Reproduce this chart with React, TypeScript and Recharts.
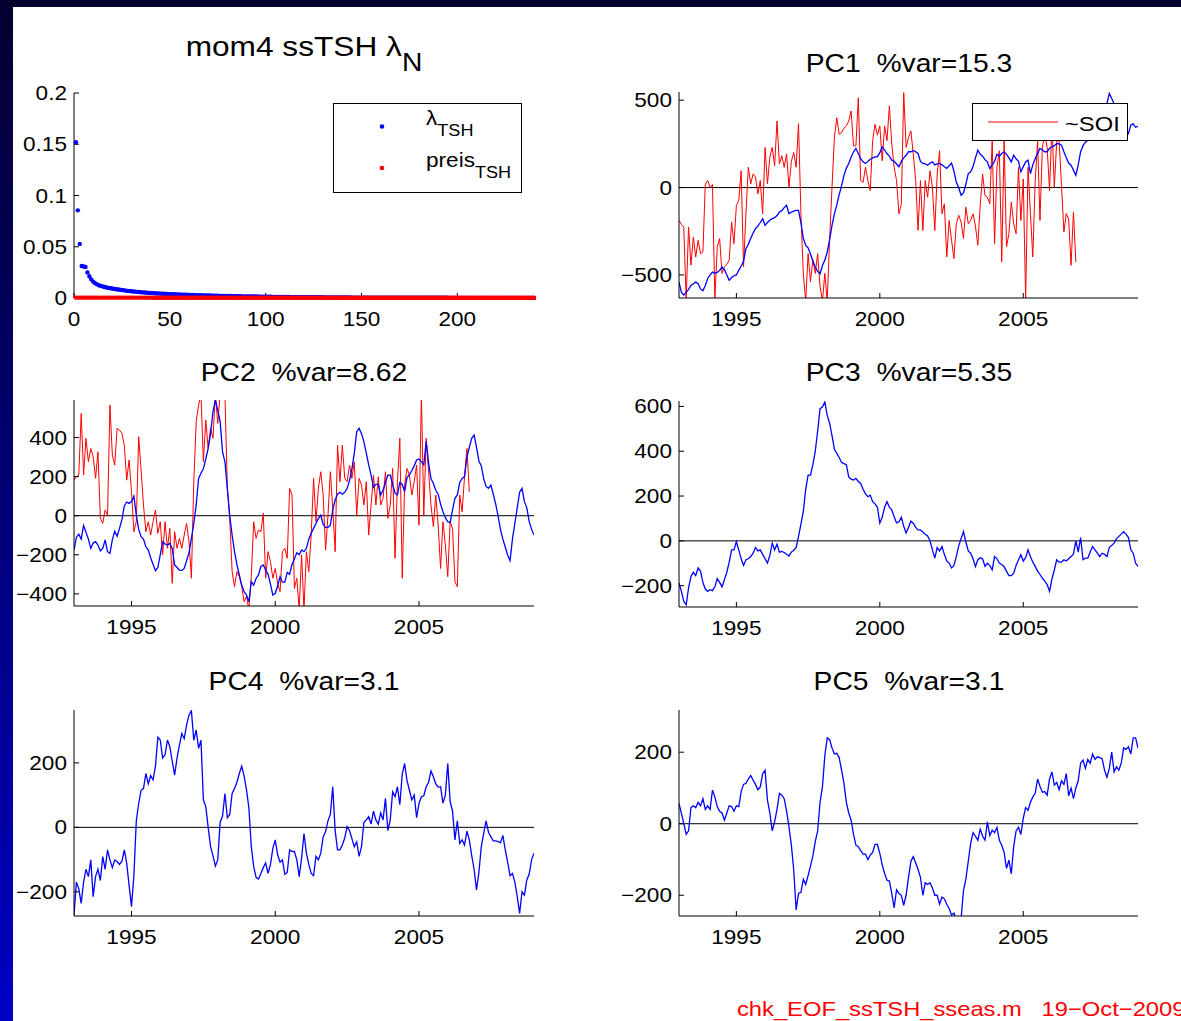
import React from "react";
import { LineChart, Line, XAxis, YAxis, ReferenceLine, Legend } from "recharts";

// Monthly principal components of ssTSH, Jan 1993 .. Jan 2009
const START_YEAR = 1993;

const PC1 = [
  -541, -600, -615, -600, -583, -560, -550, -541, -550, -580, -590, -560,
  -520, -500, -484, -490, -485, -474, -455, -470, -500, -531, -515, -505,
  -500, -474, -450, -420, -350, -325, -290, -260, -235, -220, -200, -178,
  -216, -200, -187, -178, -172, -160, -140, -132, -115, -101, -149, -140,
  -135, -130, -130, -200, -290, -331, -345, -380, -420, -455, -480, -493,
  -446, -415, -370, -300, -216, -150, -100, -40, 10, 70, 110, 138,
  175, 205, 224, 195, 165, 147, 138, 150, 162, 170, 176, 176,
  200, 233, 215, 195, 180, 157, 150, 135, 119, 150, 170, 185,
  205, 205, 212, 205, 195, 150, 138, 135, 128, 140, 147, 130,
  135, 138, 130, 119, 110, 125, 140, 95, 30, 0, -44, -30,
  20, 80, 90, 120, 170, 214, 190, 180, 160, 147, 109, 130,
  150, 190, 180, 195, 205, 190, 170, 147, 185, 165, 150, 90,
  120, 147, 157, 80, 130, 166, 195, 224, 215, 205, 205, 225,
  233, 240, 252, 250, 243, 205, 170, 140, 128, 100, 71, 130,
  205, 240, 260, 270, 280, 290, 295, 300, 320, 345, 380, 480,
  539, 510, 480, 440, 420, 390, 360, 330, 310, 358, 365, 345,
  350,
];

const PC2 = [
  -176, -110, -95, -120, -50, -85, -120, -167, -140, -133, -150, -180,
  -167, -124, -184, -193, -124, -80, -105, -65, -20, 50, 70, 63,
  72, 100, 3, -70, -107, -120, -159, -175, -215, -250, -281, -265,
  -200, -133, -145, -150, -142, -167, -252, -265, -278, -280, -270, -230,
  -190, -116, -40, 55, 191, 217, 240, 290, 344, 420, 532, 592,
  540, 481, 327, 276, 140, 0, -100, -184, -250, -303, -355, -389,
  -406, -440, -338, -355, -321, -303, -260, -252, -278, -300, -350, -406,
  -397, -360, -312, -340, -340, -290, -300, -250, -220, -190, -200, -175,
  -184, -167, -120, -90, -65, -40, -15, 3, -45, -60, -60, -48,
  30, 80, 110, 120, 110, 120, 140, 180, 240, 320, 430, 447,
  420, 378, 320, 260, 208, 145, 160, 160, 106, 130, 170, 208,
  208, 160, 115, 106, 170, 160, 123, 195, 210, 230, 255, 285,
  290, 275, 260, 380, 270, 190, 165, 130, 110, 60, 20, -10,
  -31, -35, 30, 89, 106, 170, 191, 200, 300, 350, 396, 413,
  350, 280, 255, 190, 150, 140, 157, 110, 60, 0, -70, -120,
  -160, -201, -230, -120, -40, 40, 120, 140, 72, 40, -30, -70,
  -99,
];

const PC3 = [
  -188, -225, -270, -285, -210, -159, -140, -155, -121, -135, -185, -215,
  -225, -218, -222, -205, -168, -185, -205, -173, -140, -95, -40, -40,
  -3, -40, -80, -110, -84, -80, -70, -55, -30, -45, -40, -60,
  -80, -99, -65, -10, -40, -15, -50, -47, -52, -60, -68, -50,
  -42, -30, 20, 75, 130, 230, 293, 293, 340, 400, 490, 590,
  597, 620, 560, 525, 470, 410, 390, 372, 350, 345, 340, 285,
  275, 271, 279, 265, 256, 230, 210, 197, 204, 175, 165, 150,
  79, 105, 150, 175, 150, 138, 108, 80, 85, 105, 65, 35,
  60, 88, 79, 60, 49, 49, 40, 30, 22, 0, -40, -77,
  -30, -45, -25, -60, -90, -99, -121, -110, -70, -22, 10, 41,
  -5, -45, -55, -80, -115, -84, -75, -80, -114, -100, -110, -129,
  -70, -80, -99, -105, -115, -136, -155, -155, -144, -110, -85, -62,
  -90, -75, -40, -70, -95, -114, -135, -150, -166, -180, -195, -225,
  -170, -130, -84, -95, -95, -84, -90, -80, -70, -58, 0, -50,
  15, -84, -77, -77, -50, -25, -40, -55, -70, -55, -60, -70,
  -30, -20, -10, 10, 20, 30, 41, 30, 15, -40, -55, -100,
  -114,
];

const PC4 = [
  -272, -170, -190, -236, -170, -130, -153, -101, -215, -153, -130, -165,
  -91, -130, -70, -101, -125, -101, -106, -115, -105, -70, -112, -180,
  -246, -150, 20, 74, 115, 120, 167, 135, 160, 147, 190, 280,
  271, 215, 225, 271, 250, 205, 162, 215, 255, 291, 275, 318,
  348, 362, 270, 302, 245, 270, 85, 65, 0, -60, -88, -120,
  -101, 15, 35, 105, 30, 40, 105, 120, 140, 167, 190, 160,
  116, 60, -60, -122, -155, -160, -143, -125, -110, -143, -115, -65,
  -39, -85, -108, -101, -146, -140, -70, -75, -75, -101, -153, -95,
  -19, -80, -115, -143, -150, -90, -101, -80, -30, -13, 20, 40,
  126, -10, -70, -70, -55, -33, 2, -10, -35, -60, -45, -90,
  -60, 15, 23, 33, 10, 50, 23, 10, 45, 23, 90, -10,
  23, 110, 95, 126, 70, 165, 198, 145, 115, 85, 100, 30,
  74, 95, 98, 126, 140, 175, 157, 135, 125, 126, 75, 100,
  198, 80, 50, -39, 20, -50, -39, -55, -12, -39, -88, -130,
  -194, -140, -60, -19, 20, -15, -29, -42, -42, -44, -48, -25,
  -70, -108, -150, -143, -170, -215, -267, -200, -210, -163, -145, -100,
  -80,
];

const PC5 = [
  57, 29, 0, -30, -20, 45, 50, 45, 60, 50, 70, 40,
  50, 40, 94, 75, 48, 35, 30, 10, 30, 50, 48, 35,
  50, 48, 90, 110, 113, 125, 135, 122, 110, 95, 103, 140,
  150, 66, 30, -20, 5, 40, 85, 80, 70, 35, -8, -60,
  -130, -241, -195, -192, -155, -170, -145, -118, -90, -50, -20, 60,
  103, 190, 240, 236, 212, 195, 197, 185, 150, 113, 60, 30,
  10, -30, -60, -64, -75, -85, -85, -100, -88, -80, -58, -58,
  -83, -115, -139, -158, -160, -195, -235, -185, -195, -200, -228, -200,
  -150, -105, -92, -110, -128, -150, -200, -165, -170, -165, -180, -200,
  -200, -225, -205, -210, -225, -237, -255, -250, -270, -280, -265, -186,
  -155, -105, -55, -25, -35, -46, -15, -35, -46, 5, -33, -18,
  -25, -10, -46, -60, -80, -125, -102, -140, -64, -20, -10, -30,
  15, 45, 38, 60, 75, 85, 125, 105, 88, 90, 80, 125,
  145, 108, 115, 95, 120, 110, 140, 78, 100, 70, 100, 120,
  170, 178, 155, 180, 169, 195, 180, 187, 185, 182, 150, 130,
  155, 200, 145, 159, 150, 170, 212, 208, 215, 195, 240, 240,
  211,
];

// scaled SOI overlays, monthly from Jan 1993
const SOI_PC1 = [
  -188, -210, -226, -640, -226, -444, -283, -397, -302, -378, -368, 21,
  40, 0, 17, -640, -340, -292, -491, -453, -440, -415, -197, -321,
  -102, -74, 97, -453, -150, 116, 21, 78, 60, -36, 40, -150,
  230, 21, 173, 230, 125, 381, 135, 182, 116, 192, 2, 150,
  201, 116, 366, -150, -491, -650, -378, -539, -415, -491, -378, -567,
  -650, -491, -650, -300, 2, 287, 400, 305, 315, 340, 353, 381,
  438, 239, 239, 514, 40, 30, 116, 40, -17, 268, 362, 300,
  353, 154, 353, 268, 467, 249, 116, 40, -150, -93, 543, 230,
  287, 324, 192, 40, -245, 40, -245, 40, -55, 97, 0, -245,
  78, 211, -150, -93, -397, -188, -300, -406, -207, -159, -197, -292,
  -112, -207, -188, -150, -220, -330, -100, 78, -46, -55, -93, 268,
  -321, 116, 211, -425, 268, -340, -264, -83, -207, -264, 116, -188,
  49, -640, 116, -150, -397, 40, 268, -188, 230, 305, 230, -17,
  362, 2, 268, 268, 13, -254, -149, -180, -445, -140, -426,
];

const SOI_PC2 = [
  182, 200, 208, 523, 208, 396, 276, 344, 302, 191, 327, -14,
  -39, 29, 3, 566, 310, 259, 447, 438, 421, 361, 182, 285,
  123, -82, -31, 404, 234, 55, -82, -31, -99, -31, 29, -90,
  -31, -201, -31, -167, -65, -346, -82, -167, -116, -167, -99, -39,
  -133, -320, 174, 481, 566, 620, 276, 489, 344, 447, 396, 620,
  472, 620, 620, 620, 140, -14, -286, -363, -286, -312, -363, -440,
  -412, -480, -312, -31, -116, -73, -82, 12, -320, -184, -235, -320,
  -270, -346, -389, -184, -167, -218, 140, 106, -372, -320, -480, -201,
  -480, -184, -286, -99, 191, -31, 140, 225, 106, -176, 0, 225,
  38, -184, 361, 174, 361, 191, 174, 259, 191, 276, 3, 191,
  157, 55, 174, -99, 55, 208, 55, 199, 55, 89, 225, -14,
  55, 242, -218, 174, 396, -320, 157, 242, 208, 106, 174, 259,
  -48, 620, 3, 396, 225, 55, -56, 106, -48, -270, -31, -150,
  -312, -31, -65, -338, -363, 106, 20, 199, 344, 123,
];

// eigenvalue spectrum, modes 1..240
const LAMBDA_TSH = [
  0.152, 0.0855, 0.0528, 0.0312, 0.0308, 0.0302, 0.025, 0.0212, 0.0182, 0.016,
  0.0145, 0.0133, 0.0125, 0.0118, 0.0112, 0.0107, 0.0103, 0.0099, 0.0095, 0.0092,
  0.0089, 0.0086, 0.0083, 0.008, 0.0077, 0.0075, 0.0072, 0.007, 0.0068, 0.0066,
  0.0064, 0.0062, 0.006, 0.0058, 0.0056, 0.0055, 0.0053, 0.0052, 0.005, 0.0049,
  0.0048, 0.0046, 0.0045, 0.0044, 0.0043, 0.0042, 0.0041, 0.004, 0.0039, 0.0038,
  0.0037, 0.0036, 0.0035, 0.0035, 0.0034, 0.0033, 0.0032, 0.0032, 0.0031, 0.003,
  0.003, 0.0029, 0.0028, 0.0028, 0.0027, 0.0027, 0.0026, 0.0025, 0.0025, 0.0024,
  0.0024, 0.0023, 0.0023, 0.0022, 0.0022, 0.0021, 0.0021, 0.002, 0.002, 0.0019,
  0.0019, 0.0019, 0.0018, 0.0018, 0.0017, 0.0017, 0.0017, 0.0016, 0.0016, 0.0016,
  0.0015, 0.0015, 0.0015, 0.0014, 0.0014, 0.0014, 0.0013, 0.0013, 0.0013, 0.0013,
  0.0012, 0.0012, 0.0012, 0.0011, 0.0011, 0.0011, 0.0011, 0.001, 0.001, 0.001,
  0.001, 0.001, 0.0009, 0.0009, 0.0009, 0.0009, 0.0009, 0.0008, 0.0008, 0.0008,
  0.0008, 0.0008, 0.0008, 0.0007, 0.0007, 0.0007, 0.0007, 0.0007, 0.0007, 0.0006,
  0.0006, 0.0006, 0.0006, 0.0006, 0.0006, 0.0006, 0.0006, 0.0005, 0.0005, 0.0005,
  0.0005, 0.0005, 0.0005, 0.0005, 0.0004, 0.0004, 0.0004, 0.0004, 0.0004, 0.0004,
  0.0004, 0.0004, 0.0004, 0.0004, 0.0003, 0.0003, 0.0003, 0.0003, 0.0003, 0.0003,
  0.0003, 0.0003, 0.0003, 0.0003, 0.0003, 0.0003, 0.0003, 0.0002, 0.0002, 0.0002,
  0.0002, 0.0002, 0.0002, 0.0002, 0.0002, 0.0002, 0.0002, 0.0002, 0.0002, 0.0002,
  0.0002, 0.0002, 0.0002, 0.0002, 0.0002, 0.0002, 0.0002, 0.0002, 0.0002, 0.0002,
  0.0002, 0.0002, 0.0002, 0.0002, 0.0002, 0.0001, 0.0001, 0.0001, 0.0001, 0.0001,
  0.0001, 0.0001, 0.0001, 0.0001, 0.0001, 0.0001, 0.0001, 0.0001, 0.0001, 0.0001,
  0.0001, 0.0001, 0.0001, 0.0001, 0.0001, 0.0001, 0.0001, 0.0001, 0.0001, 0.0001,
  0.0001, 0.0001, 0.0001, 0.0001, 0.0001, 0.0001, 0.0001, 0.0001, 0.0001, 0.0001,
  0.0001, 0.0001, 0.0001, 0.0001, 0.0001, 0.0001, 0.0001, 0.0001, 0.0001, 0.0001,
];

const PREIS_TSH = [
  0.0004, 0.0004, 0.0004, 0.0004, 0.0004, 0.0004, 0.0004, 0.0004, 0.0004, 0.0004,
  0.0004, 0.0004, 0.0004, 0.0004, 0.0004, 0.0004, 0.0004, 0.0004, 0.0004, 0.0004,
  0.0004, 0.0004, 0.0004, 0.0004, 0.0004, 0.0004, 0.0004, 0.0004, 0.0004, 0.0004,
  0.0004, 0.0004, 0.0004, 0.0004, 0.0004, 0.0004, 0.0004, 0.0004, 0.0004, 0.0004,
  0.0003, 0.0003, 0.0003, 0.0003, 0.0003, 0.0003, 0.0003, 0.0003, 0.0003, 0.0003,
  0.0003, 0.0003, 0.0003, 0.0003, 0.0003, 0.0003, 0.0003, 0.0003, 0.0003, 0.0003,
  0.0003, 0.0003, 0.0003, 0.0003, 0.0003, 0.0003, 0.0003, 0.0003, 0.0003, 0.0003,
  0.0003, 0.0003, 0.0003, 0.0003, 0.0003, 0.0003, 0.0003, 0.0003, 0.0003, 0.0003,
  0.0003, 0.0003, 0.0003, 0.0003, 0.0003, 0.0003, 0.0003, 0.0003, 0.0003, 0.0003,
  0.0003, 0.0003, 0.0003, 0.0003, 0.0003, 0.0003, 0.0003, 0.0003, 0.0003, 0.0003,
  0.0003, 0.0003, 0.0003, 0.0003, 0.0003, 0.0003, 0.0003, 0.0003, 0.0003, 0.0003,
  0.0003, 0.0003, 0.0003, 0.0003, 0.0003, 0.0003, 0.0003, 0.0003, 0.0003, 0.0003,
  0.0003, 0.0003, 0.0003, 0.0003, 0.0003, 0.0003, 0.0003, 0.0003, 0.0003, 0.0003,
  0.0003, 0.0003, 0.0003, 0.0003, 0.0003, 0.0003, 0.0003, 0.0003, 0.0003, 0.0003,
  0.0003, 0.0003, 0.0003, 0.0003, 0.0003, 0.0003, 0.0003, 0.0003, 0.0003, 0.0003,
  0.0003, 0.0003, 0.0003, 0.0003, 0.0003, 0.0003, 0.0003, 0.0003, 0.0003, 0.0003,
  0.0003, 0.0003, 0.0003, 0.0003, 0.0003, 0.0003, 0.0003, 0.0003, 0.0003, 0.0003,
  0.0003, 0.0003, 0.0003, 0.0003, 0.0003, 0.0003, 0.0003, 0.0003, 0.0003, 0.0003,
  0.0003, 0.0003, 0.0003, 0.0003, 0.0003, 0.0003, 0.0003, 0.0003, 0.0003, 0.0003,
  0.0003, 0.0003, 0.0003, 0.0003, 0.0003, 0.0003, 0.0003, 0.0003, 0.0003, 0.0003,
  0.0003, 0.0003, 0.0003, 0.0003, 0.0003, 0.0003, 0.0003, 0.0003, 0.0003, 0.0003,
  0.0003, 0.0003, 0.0003, 0.0003, 0.0003, 0.0003, 0.0003, 0.0003, 0.0003, 0.0003,
  0.0003, 0.0003, 0.0003, 0.0003, 0.0003, 0.0003, 0.0003, 0.0003, 0.0003, 0.0003,
  0.0003, 0.0003, 0.0003, 0.0003, 0.0003, 0.0003, 0.0003, 0.0003, 0.0003, 0.0003,
];

const YEAR_TICKS = [1995, 2000, 2005];
const MODE_TICKS = [0, 50, 100, 150, 200];
const LAMBDA_TICKS = [0, 0.05, 0.1, 0.15, 0.2];

const FONT = '"Liberation Sans", Arial, Helvetica, sans-serif';
const STRETCH = 1.13; // the old printout is wider than it is tall
const TICK_FS = 20;

// chart frame: y-axis width, top/right margin, x-axis height
const YW = 80;
const MT = 16;
const MR = 6;
const XH = 40;

const LEFT_X = 74;
const LEFT_W = 460;
const RIGHT_X = 679;
const RIGHT_W = 459;

function monthly(pc: number[], soi?: number[]) {
  return pc.map((v, i) => ({
    t: START_YEAR + i / 12,
    pc: v,
    soi: soi && i < soi.length ? soi[i] : null,
  }));
}

const lambdaRows = LAMBDA_TSH.map((v, i) => ({ n: i + 1, lam: v, preis: PREIS_TSH[i] }));

const fmt = (v: number) => String(v).replace("-", "\u2212");

function AxisTick(props: any) {
  const { x, y, payload, side } = props;
  const bottom = side === "bottom";
  return (
    <text
      x={x}
      y={y}
      dy={bottom ? "0.71em" : "0.355em"}
      textAnchor={bottom ? "middle" : "end"}
      fill="#000"
      fontSize={TICK_FS}
      fontFamily={FONT}
      transform={`translate(${x} 0) scale(${STRETCH} 1) translate(${-x} 0)`}
    >
      {fmt(payload.value)}
    </text>
  );
}

function Title({ cx, baseline, size, children }: any) {
  return (
    <div
      style={{
        position: "absolute",
        left: cx - 250,
        width: 500,
        top: baseline - size * 0.8465,
        height: size,
        lineHeight: `${size}px`,
        fontSize: size,
        fontFamily: FONT,
        color: "#000",
        textAlign: "center",
        whiteSpace: "pre",
        transform: `scaleX(${STRETCH})`,
      }}
    >
      {children}
    </div>
  );
}

function Sub({ children, size, drop }: any) {
  return <span style={{ position: "relative", top: drop, fontSize: size }}>{children}</span>;
}

function SoiLegend() {
  return (
    <div
      style={{
        width: 156,
        height: 38,
        boxSizing: "border-box",
        border: "1px solid #000",
        background: "#fff",
        position: "relative",
        fontFamily: FONT,
      }}
    >
      <svg width={156} height={38} style={{ position: "absolute", left: -1, top: -1 }}>
        <line x1={16} x2={86} y1={19} y2={19} stroke="#ff0000" strokeWidth={1} />
      </svg>
      <div
        style={{
          position: "absolute",
          left: 92,
          top: 28 - 21 * 0.8465 - 1,
          fontSize: 21,
          lineHeight: "21px",
          whiteSpace: "pre",
          transform: `scaleX(${STRETCH})`,
          transformOrigin: "left center",
        }}
      >
        ~SOI
      </div>
    </div>
  );
}

function EigenLegend() {
  const row = (base: number, label: string) => (
    <div
      style={{
        position: "absolute",
        left: 92,
        top: base - 20 * 0.8465 - 1,
        fontSize: 20,
        lineHeight: "20px",
        whiteSpace: "pre",
        transform: `scaleX(${STRETCH})`,
        transformOrigin: "left center",
      }}
    >
      {label}
      <Sub size={16} drop={11}>TSH</Sub>
    </div>
  );
  return (
    <div
      style={{
        width: 189,
        height: 90,
        boxSizing: "border-box",
        border: "1px solid #000",
        background: "#fff",
        position: "relative",
        fontFamily: FONT,
      }}
    >
      <svg width={189} height={90} style={{ position: "absolute", left: -1, top: -1 }}>
        <circle cx={49} cy={23.5} r={2.3} fill="#0000ff" />
        <circle cx={49} cy={65} r={2.3} fill="#ff0000" />
      </svg>
      {row(22, "\u03bb")}
      {row(64, "preis")}
    </div>
  );
}

function PcChart({ x, y, w, h, rows, domain, yTicks, soi, legend }: any) {
  const left = x - YW;
  const top = y - MT;
  return (
    <div style={{ position: "absolute", left, top }}>
      <LineChart
        width={YW + w + MR}
        height={MT + h + XH}
        data={rows}
        margin={{ top: MT, right: MR, left: 0, bottom: 0 }}
      >
        <XAxis
          dataKey="t"
          type="number"
          domain={[1993, 2009]}
          ticks={YEAR_TICKS}
          allowDataOverflow
          height={XH}
          stroke="#000"
          tickSize={-5}
          tickMargin={19}
          tick={(p: any) => <AxisTick {...p} side="bottom" />}
        />
        <YAxis
          type="number"
          domain={domain}
          ticks={yTicks}
          allowDataOverflow
          width={YW}
          stroke="#000"
          tickSize={-5}
          tickMargin={12}
          tick={(p: any) => <AxisTick {...p} side="left" />}
        />
        <ReferenceLine y={0} stroke="#000" strokeWidth={1} />
        {soi && (
          <Line
            dataKey="soi"
            stroke="#ff0000"
            strokeWidth={1}
            dot={false}
            activeDot={false}
            isAnimationActive={false}
          />
        )}
        <Line
          dataKey="pc"
          stroke="#0000ff"
          strokeWidth={1.3}
          dot={false}
          activeDot={false}
          isAnimationActive={false}
        />
        {legend && (
          <Legend
            layout="horizontal"
            verticalAlign="middle"
            align="center"
            wrapperStyle={{ left: 972 - left, top: 103 - top, width: 156, height: 38 }}
            content={() => <SoiLegend />}
          />
        )}
      </LineChart>
    </div>
  );
}

function EigenChart() {
  const x = LEFT_X;
  const y = 93;
  const h = 205;
  const left = x - YW;
  const top = y - MT;
  return (
    <div style={{ position: "absolute", left, top }}>
      <LineChart
        width={YW + LEFT_W + MR}
        height={MT + h + XH}
        data={lambdaRows}
        margin={{ top: MT, right: MR, left: 0, bottom: 0 }}
      >
        <XAxis
          dataKey="n"
          type="number"
          domain={[0, 240]}
          ticks={MODE_TICKS}
          height={XH}
          stroke="#000"
          tickSize={-5}
          tickMargin={19}
          tick={(p: any) => <AxisTick {...p} side="bottom" />}
        />
        <YAxis
          type="number"
          domain={[0, 0.2]}
          ticks={LAMBDA_TICKS}
          width={YW}
          stroke="#000"
          tickSize={-5}
          tickMargin={12}
          tick={(p: any) => <AxisTick {...p} side="left" />}
        />
        <Line
          dataKey="lam"
          stroke="none"
          dot={{ r: 2.2, fill: "#0000ff", stroke: "none" }}
          activeDot={false}
          isAnimationActive={false}
        />
        <Line
          dataKey="preis"
          stroke="none"
          dot={{ r: 2.2, fill: "#ff0000", stroke: "none" }}
          activeDot={false}
          isAnimationActive={false}
        />
        <Legend
          layout="horizontal"
          verticalAlign="middle"
          align="center"
          wrapperStyle={{ left: 333 - left, top: 103 - top, width: 189, height: 90 }}
          content={() => <EigenLegend />}
        />
      </LineChart>
    </div>
  );
}

export default function App() {
  return (
    <div
      style={{
        position: "absolute",
        left: 0,
        top: 0,
        width: 1181,
        height: 1021,
        overflow: "hidden",
        background: "#fff",
        fontFamily: FONT,
      }}
    >
      {/* slide frame */}
      <div
        style={{
          position: "absolute",
          left: 0,
          top: 0,
          width: 13,
          height: 1021,
          background: "linear-gradient(to bottom, #04002e 0%, #000078 50%, #0000c4 100%)",
        }}
      />
      <div style={{ position: "absolute", left: 0, top: 0, width: 1181, height: 7, background: "#04002e" }} />

      <Title cx={LEFT_X + LEFT_W / 2} baseline={57} size={28}>
        {"mom4 ssTSH \u03bb"}
        <Sub size={25} drop={15}>N</Sub>
      </Title>
      <EigenChart />

      <Title cx={RIGHT_X + RIGHT_W / 2} baseline={72} size={25}>{"PC1  %var=15.3"}</Title>
      <PcChart
        x={RIGHT_X}
        y={92}
        w={RIGHT_W}
        h={206}
        rows={monthly(PC1, SOI_PC1)}
        domain={[-632, 547]}
        yTicks={[-500, 0, 500]}
        soi
        legend
      />

      <Title cx={LEFT_X + LEFT_W / 2} baseline={381} size={25}>{"PC2  %var=8.62"}</Title>
      <PcChart
        x={LEFT_X}
        y={400}
        w={LEFT_W}
        h={206}
        rows={monthly(PC2, SOI_PC2)}
        domain={[-462, 592]}
        yTicks={[-400, -200, 0, 200, 400]}
        soi
      />

      <Title cx={RIGHT_X + RIGHT_W / 2} baseline={381} size={25}>{"PC3  %var=5.35"}</Title>
      <PcChart
        x={RIGHT_X}
        y={401}
        w={RIGHT_W}
        h={206}
        rows={monthly(PC3)}
        domain={[-295, 624]}
        yTicks={[-200, 0, 200, 400, 600]}
      />

      <Title cx={LEFT_X + LEFT_W / 2} baseline={690} size={25}>{"PC4  %var=3.1"}</Title>
      <PcChart
        x={LEFT_X}
        y={710}
        w={LEFT_W}
        h={206}
        rows={monthly(PC4)}
        domain={[-275, 364]}
        yTicks={[-200, 0, 200]}
      />

      <Title cx={RIGHT_X + RIGHT_W / 2} baseline={690} size={25}>{"PC5  %var=3.1"}</Title>
      <PcChart
        x={RIGHT_X}
        y={710}
        w={RIGHT_W}
        h={206}
        rows={monthly(PC5)}
        domain={[-258, 318]}
        yTicks={[-200, 0, 200]}
      />

      <div
        style={{
          position: "absolute",
          left: 737,
          top: 1016 - 21 * 0.8465,
          fontSize: 21,
          lineHeight: "21px",
          color: "#ff0000",
          whiteSpace: "pre",
          transform: `scaleX(${STRETCH})`,
          transformOrigin: "left center",
        }}
      >
        {"chk_EOF_ssTSH_sseas.m   19\u2212Oct\u22122009"}
      </div>
    </div>
  );
}
